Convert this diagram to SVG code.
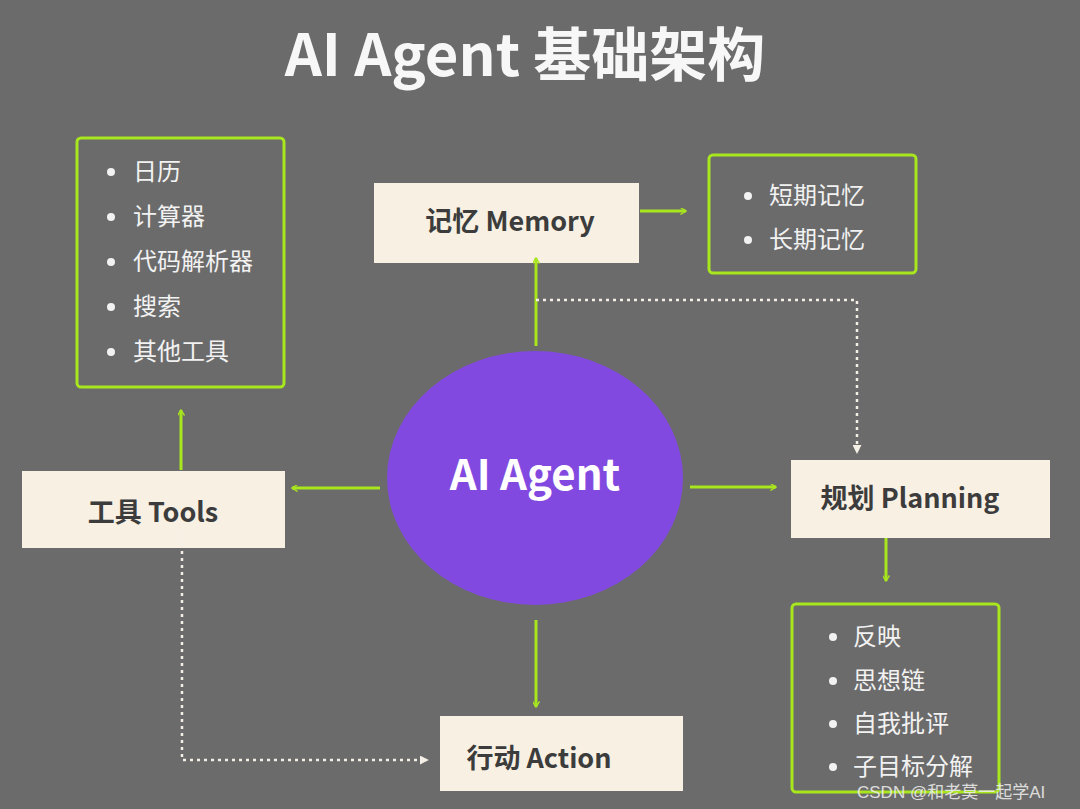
<svg xmlns="http://www.w3.org/2000/svg" width="1080" height="809" viewBox="0 0 1080 809">
<defs>
<marker id="ah" viewBox="0 0 10 10" refX="9" refY="5" markerWidth="7" markerHeight="7" orient="auto-start-reverse" markerUnits="userSpaceOnUse"><path d="M1,0 L9,5 L1,10" fill="none" stroke="#a8e61e" stroke-width="2"/></marker>
<marker id="aw" viewBox="0 0 10 10" refX="9" refY="5" markerWidth="9" markerHeight="9" orient="auto" markerUnits="userSpaceOnUse"><path d="M0,0 L10,5 L0,10 Z" fill="#f5f0e6"/></marker>
<style>
.box{fill:#f7f0e3}
.lst{fill:none;stroke:#a8e61e;stroke-width:3;rx:4}
.bt{font-family:"Noto Sans CJK SC","Noto Sans",sans-serif;font-size:27px;font-weight:bold;fill:#3c3c3c}
.li{font-family:"Noto Sans CJK SC",sans-serif;font-size:24px;fill:#f2f2f2}
.g{stroke:#a8e61e;stroke-width:3;fill:none;marker-end:url(#ah)}
.d{stroke:#f5f0e6;stroke-width:2.5;stroke-dasharray:3,4;fill:none;marker-end:url(#aw)}
</style>
</defs>
<rect width="1080" height="809" fill="#6b6b6b"/>
<text x="525" y="76" text-anchor="middle" font-family="Noto Sans CJK SC,sans-serif" font-size="58" font-weight="bold" fill="#f7f7f7">AI Agent 基础架构</text>
<g id="agent"><ellipse cx="535" cy="478" rx="148" ry="127" fill="#8249e0"/><text x="535" y="490" text-anchor="middle" font-family="Noto Sans CJK SC,sans-serif" font-size="42" font-weight="bold" fill="#fff">AI Agent</text></g>
<g id="memory"><rect class="box" x="374" y="183" width="265" height="80"/><text class="bt" x="510" y="231" text-anchor="middle">记忆 Memory</text></g>
<g id="tools"><rect class="box" x="22" y="471" width="263" height="77"/><text class="bt" x="153" y="522" text-anchor="middle">工具 Tools</text></g>
<g id="planning"><rect class="box" x="791" y="460" width="259" height="78"/><text class="bt" x="910" y="508" text-anchor="middle">规划 Planning</text></g>
<g id="action"><rect class="box" x="440" y="716" width="243" height="75"/><text class="bt" x="539" y="768" text-anchor="middle">行动 Action</text></g>
<g id="connectors">
<line class="g" x1="536" y1="346" x2="536" y2="258"/>
<line class="g" x1="640" y1="211" x2="686" y2="211"/>
<line class="g" x1="380" y1="488" x2="292" y2="488"/>
<line class="g" x1="181" y1="470" x2="181" y2="410"/>
<line class="g" x1="690" y1="487" x2="776" y2="487"/>
<line class="g" x1="886" y1="538" x2="886" y2="581"/>
<line class="g" x1="536" y1="620" x2="536" y2="707"/>
<polyline class="d" points="536,300 857,300 857,453"/>
<polyline class="d" points="182,530 182,760 428,760"/>
</g>
<g id="toollist"><rect class="lst" x="77" y="138" width="207" height="249"/>
<g class="li"><circle cx="111" cy="172" r="4" fill="#f2f2f2"/><text x="133" y="180">日历</text>
<circle cx="111" cy="217" r="4" fill="#f2f2f2"/><text x="133" y="225">计算器</text>
<circle cx="111" cy="262" r="4" fill="#f2f2f2"/><text x="133" y="270">代码解析器</text>
<circle cx="111" cy="307" r="4" fill="#f2f2f2"/><text x="133" y="315">搜索</text>
<circle cx="111" cy="352" r="4" fill="#f2f2f2"/><text x="133" y="360">其他工具</text></g></g>
<g id="memlist"><rect class="lst" x="709" y="155" width="207" height="118"/>
<g class="li"><circle cx="748" cy="196" r="4" fill="#f2f2f2"/><text x="769" y="204">短期记忆</text>
<circle cx="748" cy="240" r="4" fill="#f2f2f2"/><text x="769" y="248">长期记忆</text></g></g>
<g id="planlist"><rect class="lst" x="792" y="604" width="207" height="188"/>
<g class="li"><circle cx="833" cy="637" r="4" fill="#f2f2f2"/><text x="853" y="645">反映</text>
<circle cx="833" cy="681" r="4" fill="#f2f2f2"/><text x="853" y="689">思想链</text>
<circle cx="833" cy="724" r="4" fill="#f2f2f2"/><text x="853" y="732">自我批评</text>
<circle cx="833" cy="767" r="4" fill="#f2f2f2"/><text x="853" y="775">子目标分解</text></g></g>
<text x="857" y="798" font-family="Liberation Sans,Noto Sans CJK SC,sans-serif" font-size="17" fill="#f0f0f0" opacity="0.85">CSDN @和老莫一起学AI</text>
</svg>
